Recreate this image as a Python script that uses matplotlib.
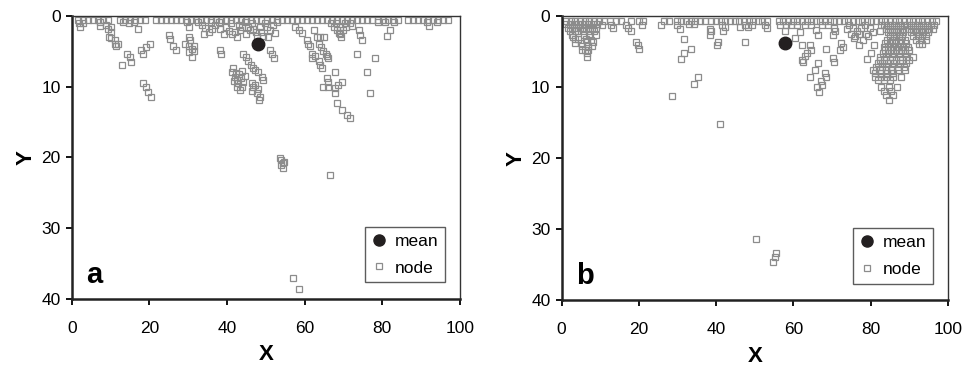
import matplotlib
matplotlib.use("Agg")
import matplotlib.pyplot as plt
from matplotlib.lines import Line2D

plt.rcParams['font.family'] = ['Liberation Sans', 'DejaVu Sans']

# ---- panel a : node positions (x, y) ----
a_top = [(1.5, 0.5), (2.8, 0.5), (4.1, 0.5), (5.4, 0.5), (6.7, 0.5), (8.0, 0.5), (9.3, 0.5),
         (12.4, 0.5), (13.7, 0.5), (15.0, 0.5), (16.3, 0.5), (17.6, 0.5), (18.9, 0.5),
         (21.6, 0.5), (22.9, 0.5), (24.2, 0.5), (25.5, 0.5), (26.8, 0.5), (28.1, 0.5),
         (29.4, 0.5), (30.7, 0.5), (32.0, 0.5), (33.3, 0.5), (34.6, 0.5), (35.9, 0.5),
         (37.2, 0.5), (38.5, 0.5), (39.8, 0.5), (41.1, 0.5), (42.4, 0.5), (43.7, 0.5),
         (45.0, 0.5), (46.3, 0.5), (47.6, 0.5), (48.9, 0.5), (50.2, 0.5), (51.5, 0.5),
         (52.8, 0.5), (54.1, 0.5), (55.4, 0.5), (56.7, 0.5), (58.0, 0.5), (59.3, 0.5),
         (60.6, 0.5), (61.9, 0.5), (63.2, 0.5), (64.5, 0.5), (65.8, 0.5), (67.1, 0.5),
         (68.4, 0.5), (69.7, 0.5), (71.0, 0.5), (72.3, 0.5), (73.6, 0.5), (74.9, 0.5),
         (76.2, 0.5), (77.5, 0.5), (78.8, 0.5), (80.1, 0.5), (81.4, 0.5), (82.7, 0.5),
         (84.0, 0.5), (86.6, 0.5), (87.9, 0.5), (89.2, 0.5), (90.5, 0.5), (91.8, 0.5),
         (93.1, 0.5), (94.4, 0.5), (95.7, 0.5), (97.0, 0.5)]
a_left = [(1.8, 1.0), (2.8, 1.0), (2.2, 1.6), (7.2, 0.9), (7.2, 1.4), (8.9, 1.2), (9.4, 1.8),
          (10.1, 1.6), (10.1, 2.3), (9.7, 2.9), (10.1, 3.1), (11.1, 3.4), (11.1, 3.9),
          (11.9, 3.9), (11.5, 4.3), (14.3, 5.3), (14.9, 5.8), (15.4, 6.5), (13.0, 6.9),
          (13.2, 0.9), (14.8, 1.0), (16.0, 0.9), (17.1, 1.9), (17.9, 4.8), (18.3, 5.4),
          (19.2, 4.4), (20.1, 4.0), (18.4, 9.4), (19.2, 10.0), (19.7, 10.7), (20.4, 11.4)]
a_mid = [(25.0, 2.7), (25.4, 3.2), (26.2, 4.3), (27.0, 4.8), (29.7, 0.9), (30.1, 1.5),
         (30.1, 2.9), (30.4, 3.4), (29.2, 3.9), (30.1, 4.3), (30.9, 4.7), (31.4, 4.9),
         (30.1, 5.1), (30.9, 5.8), (31.6, 4.2), (32.6, 0.9), (33.5, 1.3), (34.4, 1.7),
         (35.3, 2.3), (36.2, 1.9), (37.0, 1.3), (37.9, 0.9), (38.3, 1.9), (39.2, 2.5),
         (40.5, 2.1), (41.4, 2.5), (42.2, 2.3), (42.6, 2.9), (43.0, 1.3), (34.0, 2.6),
         (38.2, 4.8), (38.5, 5.3), (44.7, 0.9), (45.5, 1.5), (46.0, 2.0), (46.8, 1.8),
         (47.6, 2.3), (48.4, 1.6), (48.8, 2.3), (47.8, 2.8), (49.4, 2.8), (50.2, 1.5),
         (51.0, 2.0), (51.8, 1.2), (52.5, 2.4), (50.5, 2.9), (49.8, 1.0), (46.5, 1.0),
         (44.0, 1.5), (43.4, 2.0), (45.0, 2.6), (52.9, 0.9), (41.0, 1.0), (39.8, 1.5),
         (36.0, 0.9), (44.2, 5.4), (45.0, 5.8), (45.5, 6.4), (46.3, 6.9), (46.8, 7.4),
         (47.2, 7.6), (48.1, 7.9), (49.0, 8.6), (49.4, 9.0), (41.6, 7.4), (41.4, 7.9),
         (42.1, 8.6), (42.6, 9.0), (42.9, 9.5), (43.8, 10.0), (43.0, 8.2), (43.6, 8.8),
         (44.2, 9.3), (41.9, 9.2), (42.6, 10.1), (43.4, 10.5), (44.6, 8.5), (44.0, 7.8),
         (42.4, 8.0), (46.4, 9.5), (46.7, 10.0), (47.7, 10.9), (47.2, 9.8), (46.5, 10.6),
         (47.9, 10.3), (48.5, 11.4), (48.3, 11.9), (51.1, 4.8), (51.5, 5.3), (52.0, 6.0)]
a_right = [(57.6, 1.5), (58.5, 2.0), (59.4, 2.4), (60.6, 3.4), (61.0, 3.9), (61.4, 4.3),
           (61.9, 5.3), (61.9, 6.0), (62.6, 5.6), (62.4, 2.0), (63.3, 3.0), (64.1, 3.0),
           (64.9, 3.0), (63.7, 3.9), (64.3, 4.4), (64.8, 5.0), (65.4, 5.3), (65.7, 5.6),
           (66.1, 6.0), (63.6, 6.4), (64.0, 6.9), (64.4, 7.4), (67.9, 7.9), (65.7, 8.8),
           (66.1, 9.3), (64.8, 10.0), (66.1, 10.1), (67.9, 10.2), (68.7, 9.8), (69.6, 9.3),
           (67.9, 10.9), (68.3, 12.3), (69.6, 13.3), (70.9, 14.0), (71.7, 14.4),
           (66.8, 1.0), (67.6, 1.5), (68.4, 2.0), (69.2, 2.6), (70.0, 2.0), (70.8, 1.5),
           (71.6, 1.0), (68.0, 1.0), (69.2, 1.5), (70.4, 1.0), (69.5, 3.0), (72.2, 1.4),
           (68.8, 2.4), (73.9, 2.0), (74.3, 2.7), (74.7, 3.4), (73.5, 5.3), (76.0, 7.9),
           (78.2, 6.0), (76.9, 10.9), (78.8, 0.9), (80.7, 0.9), (81.2, 2.8), (82.0, 2.0),
           (83.1, 0.9), (91.6, 0.9), (92.1, 1.4), (94.2, 0.9)]
a_far = [(53.7, 20.1), (54.0, 20.4), (54.4, 20.8), (54.0, 21.0), (54.6, 20.6), (54.4, 21.5),
         (66.6, 22.5), (57.0, 37.0), (58.6, 38.6)]
a_mean = (48.1, 3.9)

# ---- panel b ----
b_top = [(1.2, 0.6), (2.4, 0.6), (3.6, 0.6), (4.8, 0.6), (6.0, 0.6), (7.2, 0.6), (8.4, 0.6),
         (9.6, 0.6), (11.0, 0.6), (12.5, 0.6), (14.0, 0.6), (15.5, 0.6), (18.0, 0.6),
         (20.0, 0.6), (21.2, 0.6), (26.5, 0.6), (27.8, 0.6), (29.8, 0.6), (31.0, 0.6),
         (32.2, 0.6), (33.4, 0.6), (34.6, 0.6), (35.8, 0.6), (37.0, 0.6), (38.6, 0.6),
         (40.0, 0.6), (41.2, 0.6), (42.4, 0.6), (43.6, 0.6), (44.8, 0.6), (46.0, 0.6),
         (47.2, 0.6), (48.4, 0.6), (49.6, 0.6), (50.8, 0.6), (52.0, 0.6), (53.2, 0.6),
         (56.2, 0.6), (57.4, 0.6), (58.6, 0.6), (59.8, 0.6), (61.0, 0.6), (62.2, 0.6),
         (63.4, 0.6), (64.6, 0.6), (65.8, 0.6), (67.0, 0.6), (68.2, 0.6), (69.4, 0.6),
         (70.6, 0.6), (71.8, 0.6), (73.0, 0.6), (74.2, 0.6), (75.4, 0.6), (76.6, 0.6),
         (77.8, 0.6), (79.0, 0.6), (80.2, 0.6), (81.4, 0.6), (82.6, 0.6), (83.8, 0.6),
         (85.0, 0.6), (86.2, 0.6), (87.4, 0.6), (88.6, 0.6), (89.8, 0.6), (91.0, 0.6),
         (92.2, 0.6), (93.4, 0.6), (94.6, 0.6), (95.8, 0.6), (97.0, 0.6)]
b_left = [(1.2, 1.1), (2.2, 1.1), (3.2, 1.1), (4.2, 1.1), (5.2, 1.1), (6.2, 1.1), (7.2, 1.1),
          (8.2, 1.1), (9.2, 1.1), (1.8, 1.6), (2.8, 1.6), (3.8, 1.6), (4.8, 1.6), (5.8, 1.6),
          (6.8, 1.6), (7.8, 1.6), (8.8, 1.6), (2.2, 2.1), (3.5, 2.1), (4.2, 2.1), (5.6, 2.1),
          (7.4, 2.1), (8.4, 2.1), (2.6, 2.6), (3.0, 2.85), (5.8, 2.6), (7.0, 2.6), (8.8, 2.6),
          (3.5, 3.2), (4.2, 3.2), (6.4, 3.2), (7.6, 3.3), (3.6, 3.7), (5.0, 3.7), (6.6, 3.6),
          (8.1, 3.6), (5.2, 4.2), (6.8, 4.2), (8.0, 4.2), (5.2, 4.7), (6.0, 4.7), (6.9, 4.7),
          (6.5, 5.2), (6.5, 5.7), (10.4, 1.2), (12.9, 1.2), (13.4, 1.6), (16.8, 1.2),
          (17.2, 1.6), (17.9, 2.1), (19.3, 3.6), (19.7, 4.0), (20.1, 4.6), (20.7, 1.2)]
b_mid = [(25.7, 1.2), (29.8, 1.2), (30.6, 1.7), (31.7, 3.2), (31.7, 5.1), (33.4, 4.6),
         (30.8, 6.0), (35.4, 8.6), (34.3, 9.5), (28.7, 11.2), (41.0, 15.2), (33.0, 1.1),
         (34.2, 1.1), (38.4, 1.7), (38.7, 2.1), (38.4, 2.6), (40.5, 3.6), (40.3, 4.0),
         (41.8, 2.1), (41.4, 1.2), (42.2, 1.5), (46.1, 1.5), (47.4, 1.2), (48.2, 1.5),
         (49.4, 1.2), (47.4, 3.6), (52.6, 1.2), (53.2, 1.6), (56.5, 1.2), (58.0, 1.2),
         (59.5, 1.2), (57.7, 2.1), (61.0, 1.2), (63.0, 1.2), (64.6, 1.2), (67.5, 1.2),
         (69.0, 1.2), (60.3, 3.1), (61.6, 2.2), (62.1, 4.0), (64.2, 4.0), (64.6, 4.7),
         (63.4, 5.2), (63.0, 5.6), (62.1, 6.1), (62.5, 6.4), (66.4, 6.6), (65.5, 7.5),
         (64.4, 8.6), (68.1, 8.0), (68.5, 8.6), (67.2, 9.1), (67.5, 9.6), (66.1, 10.0),
         (66.5, 10.6), (68.5, 4.6), (70.2, 5.9), (70.5, 6.4), (65.9, 1.9), (66.3, 2.6),
         (70.2, 2.6), (70.6, 1.6), (70.8, 2.0), (72.4, 3.8), (72.8, 4.3), (72.0, 4.7),
         (75.8, 3.1), (77.1, 4.0), (78.0, 3.3), (78.9, 2.4), (79.3, 2.8), (79.1, 6.0),
         (80.2, 5.2), (80.8, 4.0), (82.3, 2.1), (82.7, 1.2), (74.5, 1.2), (75.5, 1.6),
         (76.5, 2.1), (77.5, 1.6), (78.5, 1.2), (76.0, 2.8), (77.0, 2.4), (79.8, 1.6),
         (80.5, 2.2), (74.0, 1.8), (75.0, 2.4)]
b_right = [(83.5, 1.2), (84.5, 1.2), (85.5, 1.2), (86.5, 1.2), (87.5, 1.2), (88.5, 1.2),
           (84.0, 1.7), (85.0, 1.7), (86.0, 1.7), (87.0, 1.7), (88.0, 1.7),
           (84.5, 2.2), (85.5, 2.2), (86.5, 2.2), (87.5, 2.2), (88.4, 2.2),
           (85.0, 2.8), (86.0, 2.8), (87.2, 2.8), (88.2, 2.8),
           (84.3, 3.3), (85.5, 3.3), (86.5, 3.3), (87.8, 3.3), (89.0, 3.3),
           (83.7, 3.8), (85.0, 3.8), (86.3, 3.8), (87.7, 3.8), (89.2, 3.8),
           (83.4, 4.3), (84.6, 4.3), (85.8, 4.3), (87.0, 4.3), (88.4, 4.3), (89.6, 4.3),
           (83.7, 4.7), (85.2, 4.7), (86.6, 4.7), (87.8, 4.7), (89.0, 4.7), (90.0, 4.7),
           (83.1, 5.2), (84.4, 5.2), (85.8, 5.2), (87.4, 5.2), (88.8, 5.2),
           (82.5, 5.7), (84.0, 5.7), (85.5, 5.7), (87.5, 5.7), (89.2, 5.7), (90.9, 5.7),
           (82.3, 6.2), (83.5, 6.2), (85.0, 6.2), (86.5, 6.2), (88.2, 6.2), (89.8, 6.2),
           (81.8, 6.6), (83.0, 6.6), (84.4, 6.6), (85.7, 6.6), (87.5, 6.6), (89.2, 6.6),
           (81.5, 7.1), (82.8, 7.1), (84.0, 7.1), (85.5, 7.1), (87.0, 7.1), (88.6, 7.1),
           (80.6, 7.5), (82.3, 7.5), (84.0, 7.5), (85.3, 7.5), (87.0, 7.5), (88.9, 7.5),
           (81.0, 8.0), (82.6, 8.0), (84.3, 8.0), (85.9, 8.0),
           (81.2, 8.5), (82.6, 8.5), (84.0, 8.5), (85.7, 8.5), (87.8, 8.5),
           (82.0, 9.0), (83.4, 9.0), (85.0, 9.0), (82.6, 9.9), (84.8, 9.9), (86.9, 9.9),
           (83.5, 10.5), (85.2, 10.5), (84.0, 11.1), (85.7, 11.1), (84.8, 11.8),
           (89.5, 1.2), (90.5, 1.2), (91.5, 1.2), (92.5, 1.2), (93.5, 1.2), (94.5, 1.2),
           (95.5, 1.2), (96.5, 1.2), (90.0, 1.7), (91.0, 1.7), (92.0, 1.7), (93.0, 1.7),
           (94.0, 1.7), (95.0, 1.7), (96.0, 1.7), (90.5, 2.2), (91.6, 2.2), (92.6, 2.2),
           (93.6, 2.2), (94.8, 2.2), (91.0, 2.8), (92.2, 2.8), (93.4, 2.8), (94.4, 2.8),
           (91.6, 3.3), (93.0, 3.3), (94.2, 3.3), (92.4, 3.9), (93.4, 3.9)]
b_far = [(50.4, 31.4), (55.4, 33.4), (55.2, 34.0), (54.6, 34.6)]
b_mean = (57.7, 3.7)

node_style = dict(linestyle='none', marker='s', markersize=5, markerfacecolor='none',
                  markeredgecolor='#8c8c8c', markeredgewidth=0.9)
mean_style = dict(linestyle='none', marker='o', markersize=9, color='#231f20')


def draw_panel(ax, groups, mean, tag):
    for g in groups:
        ax.plot([p[0] for p in g], [p[1] for p in g], **node_style)
    ax.plot([mean[0]], [mean[1]], **mean_style)

    ax.set_xlim(0, 100)
    ax.set_ylim(40, 0)
    ax.set_xticks([0, 20, 40, 60, 80, 100])
    ax.set_yticks([0, 10, 20, 30, 40])
    ax.tick_params(axis='both', direction='out', length=4, width=1.3, labelsize=12.5)
    ax.tick_params(axis='x', pad=12)
    ax.tick_params(axis='y', pad=4)
    for s in ['left', 'bottom']:
        ax.spines[s].set_linewidth(1.8)
        ax.spines[s].set_color('#222222')
    for s in ['top', 'right']:
        ax.spines[s].set_linewidth(1.0)
        ax.spines[s].set_color('#333333')
    ax.set_xlabel('X', fontsize=16, fontweight='bold', labelpad=6)
    ax.set_ylabel('Y', fontsize=16, fontweight='bold', labelpad=3)
    ax.text(3.7, 37.7, tag, fontsize=21, fontweight='bold')

    handles = [Line2D([], [], **mean_style), Line2D([], [], **dict(node_style, markersize=4.5))]
    handles[0].set_markersize(8)
    leg = ax.legend(handles, ['mean', 'node'], loc='lower right', bbox_to_anchor=(0.962, 0.058),
                    fontsize=12.5, frameon=True, fancybox=False, edgecolor='#333333',
                    handlelength=0.8, handletextpad=0.5, borderpad=0.4, labelspacing=0.65,
                    borderaxespad=0)
    leg.get_frame().set_linewidth(1.0)


fig = plt.figure(figsize=(9.69, 3.69), dpi=100)
ax_a = fig.add_axes([0.074, 0.19, 0.4005, 0.7665])
ax_b = fig.add_axes([0.5795, 0.187, 0.3988, 0.7683])

draw_panel(ax_a, [a_top, a_left, a_mid, a_right, a_far], a_mean, 'a')
draw_panel(ax_b, [b_top, b_left, b_mid, b_right, b_far], b_mean, 'b')

fig.savefig('out.png', dpi=100)
